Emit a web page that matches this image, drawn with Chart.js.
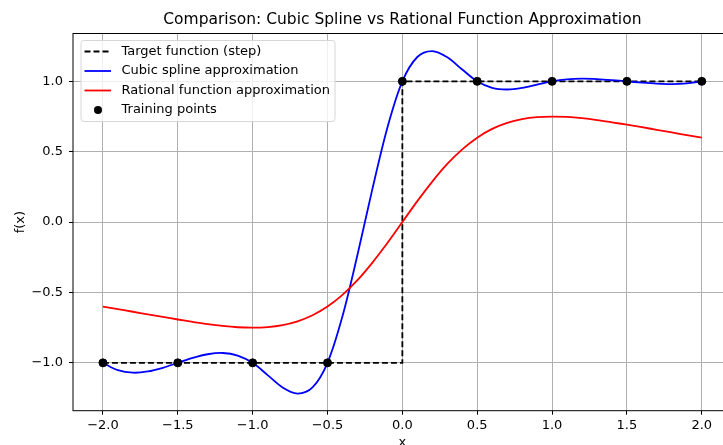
<!DOCTYPE html>
<html>
<head>
<meta charset="utf-8">
<title>Cubic Spline vs Rational Function</title>
<script src="https://cdn.jsdelivr.net/npm/chart.js@4.4.1/dist/chart.umd.min.js"></script>
<style>
  html, body { margin: 0; padding: 0; background: #fff; overflow: hidden; }
  #wrap { width: 740px; height: 460px; }
</style>
</head>
<body>
<div id="wrap"><canvas id="chart" width="740" height="460"></canvas></div>
<script>
  const sampleX = [-2.0, -1.9, -1.8, -1.7, -1.6, -1.5, -1.4, -1.3, -1.2, -1.1, -1.0, -0.9, -0.8, -0.7, -0.6, -0.5, -0.4, -0.3, -0.2, -0.1,
    0.0, 0.1, 0.2, 0.3, 0.4, 0.5, 0.6, 0.7, 0.8, 0.9, 1.0, 1.1, 1.2, 1.3, 1.4, 1.5, 1.6, 1.7, 1.8, 1.9, 2.0];
  const splineY = [-1.000, -1.052, -1.070, -1.061, -1.035, -1.000, -0.965, -0.939, -0.930, -0.948, -1.000, -1.087, -1.175, -1.218, -1.175, -1.000, -0.669, -0.234, 0.236, 0.671,
    1.000, 1.173, 1.215, 1.171, 1.084, 1.000, 0.953, 0.942, 0.953, 0.977, 1.000, 1.014, 1.019, 1.016, 1.009, 1.000, 0.991, 0.984, 0.981, 0.986, 1.000];
  const rationalY = [-0.600, -0.618, -0.637, -0.656, -0.674, -0.692, -0.709, -0.725, -0.738, -0.747, -0.750, -0.746, -0.732, -0.705, -0.662, -0.600, -0.517, -0.413, -0.288, -0.149,
    0.000, 0.149, 0.288, 0.413, 0.517, 0.600, 0.662, 0.705, 0.732, 0.746, 0.750, 0.747, 0.738, 0.725, 0.709, 0.692, 0.674, 0.656, 0.637, 0.618, 0.600];
  const stepX = [-2, 0, 0, 2];
  const stepY = [-1, -1, 1, 1];
  const trainX = [-2, -1.5, -1, -0.5, 0, 0.5, 1, 1.5, 2];
  const trainY = [-1, -1, -1, -1, 1, 1, 1, 1, 1];
  const xTicks = [-2, -1.5, -1, -0.5, 0, 0.5, 1, 1.5, 2];
  const yTicks = [-1, -0.5, 0, 0.5, 1];
  const labels = ['Target function (step)', 'Cubic spline approximation', 'Rational function approximation', 'Training points'];
  const titleText = 'Comparison: Cubic Spline vs Rational Function Approximation';

  const FONT = 'DejaVu Sans';
  const fmt = (v) => Number(v).toFixed(1).replace('-', '\u2212');
  const pts = (xs, ys) => xs.map((x, i) => ({ x, y: ys[i] }));

  // matplotlib-like frame, title over the axes and legend box inside them
  const framePlugin = {
    id: 'frame',
    afterDatasetsDraw(chart) {
      const { ctx, chartArea: a } = chart;
      ctx.save();
      ctx.strokeStyle = '#000';
      ctx.lineWidth = 1;
      ctx.strokeRect(a.left, a.top, a.right - a.left, a.bottom - a.top);

      ctx.fillStyle = '#000';
      ctx.font = '15.5px "' + FONT + '"';
      ctx.textAlign = 'center';
      ctx.textBaseline = 'middle';
      ctx.fillText(titleText, (a.left + a.right) / 2, a.top - 13.5);

      const bx = a.left + 8, by = a.top + 7, bw = 254, bh = 81;
      ctx.beginPath();
      ctx.roundRect(bx, by, bw, bh, 3);
      ctx.fillStyle = 'rgba(255,255,255,0.8)';
      ctx.fill();
      ctx.strokeStyle = '#d6d6d6';
      ctx.stroke();

      ctx.font = '13px "' + FONT + '"';
      ctx.textBaseline = 'middle';
      ctx.textAlign = 'left';
      const rowY = [by + 11, by + 30.5, by + 50, by + 69.5];
      const styles = [
        { color: '#000', dash: [6, 3] },
        { color: '#0000ff', dash: [] },
        { color: '#ff0000', dash: [] },
        null
      ];
      labels.forEach((text, i) => {
        const y = rowY[i];
        const s = styles[i];
        if (s) {
          ctx.beginPath();
          ctx.setLineDash(s.dash);
          ctx.strokeStyle = s.color;
          ctx.lineWidth = 1.8;
          ctx.moveTo(bx + 3.5, y);
          ctx.lineTo(bx + 30, y);
          ctx.stroke();
          ctx.setLineDash([]);
        } else {
          ctx.beginPath();
          ctx.fillStyle = '#000';
          ctx.arc(bx + 17, y, 4, 0, Math.PI * 2);
          ctx.fill();
        }
        ctx.fillStyle = '#000';
        ctx.fillText(text, bx + 40.5, y);
      });
      ctx.restore();
    }
  };

  new Chart(document.getElementById('chart'), {
    type: 'line',
    data: {
      datasets: [
        {
          label: labels[3],
          type: 'scatter',
          data: pts(trainX, trainY),
          backgroundColor: '#000',
          borderColor: '#000',
          pointRadius: 4,
          order: 0
        },
        {
          label: labels[2],
          data: pts(sampleX, rationalY),
          borderColor: '#ff0000',
          borderWidth: 1.8,
          pointRadius: 0,
          tension: 0.33,
          order: 1
        },
        {
          label: labels[1],
          data: pts(sampleX, splineY),
          borderColor: '#0000ff',
          borderWidth: 1.8,
          pointRadius: 0,
          tension: 0.33,
          order: 2
        },
        {
          label: labels[0],
          data: pts(stepX, stepY),
          borderColor: '#000',
          borderWidth: 1.8,
          borderDash: [6, 3],
          pointRadius: 0,
          tension: 0,
          order: 3
        }
      ]
    },
    options: {
      responsive: false,
      animation: false,
      devicePixelRatio: 1,
      layout: { padding: { left: 0, right: 8.3, top: 33.5, bottom: 0 } },
      plugins: {
        legend: { display: false },
        tooltip: { enabled: false },
        title: { display: false }
      },
      scales: {
        x: {
          type: 'linear',
          min: -2.2,
          max: 2.2,
          afterBuildTicks: (scale) => { scale.ticks = xTicks.map((v) => ({ value: v })); },
          afterFit: (scale) => { scale.height = 49.3; },
          border: { display: false },
          grid: { color: '#b0b0b0', lineWidth: 1, tickColor: '#000', tickLength: 4 },
          ticks: { color: '#000', padding: 3, maxRotation: 0, font: { family: FONT, size: 13 }, callback: fmt },
          title: { display: true, text: 'x', color: '#000', font: { family: FONT, size: 13 }, padding: { top: 0, bottom: 9.2 } }
        },
        y: {
          type: 'linear',
          min: -1.34,
          max: 1.34,
          afterBuildTicks: (scale) => { scale.ticks = yTicks.map((v) => ({ value: v })); },
          afterFit: (scale) => { scale.width = 73; },
          border: { display: false },
          grid: { color: '#b0b0b0', lineWidth: 1, tickColor: '#000', tickLength: 4 },
          ticks: { color: '#000', padding: 6, font: { family: FONT, size: 13 }, callback: fmt },
          title: { display: true, text: 'f(x)', color: '#000', font: { family: FONT, size: 13 }, padding: { top: 13, bottom: 0 } }
        }
      }
    },
    plugins: [framePlugin]
  });
</script>
</body>
</html>
